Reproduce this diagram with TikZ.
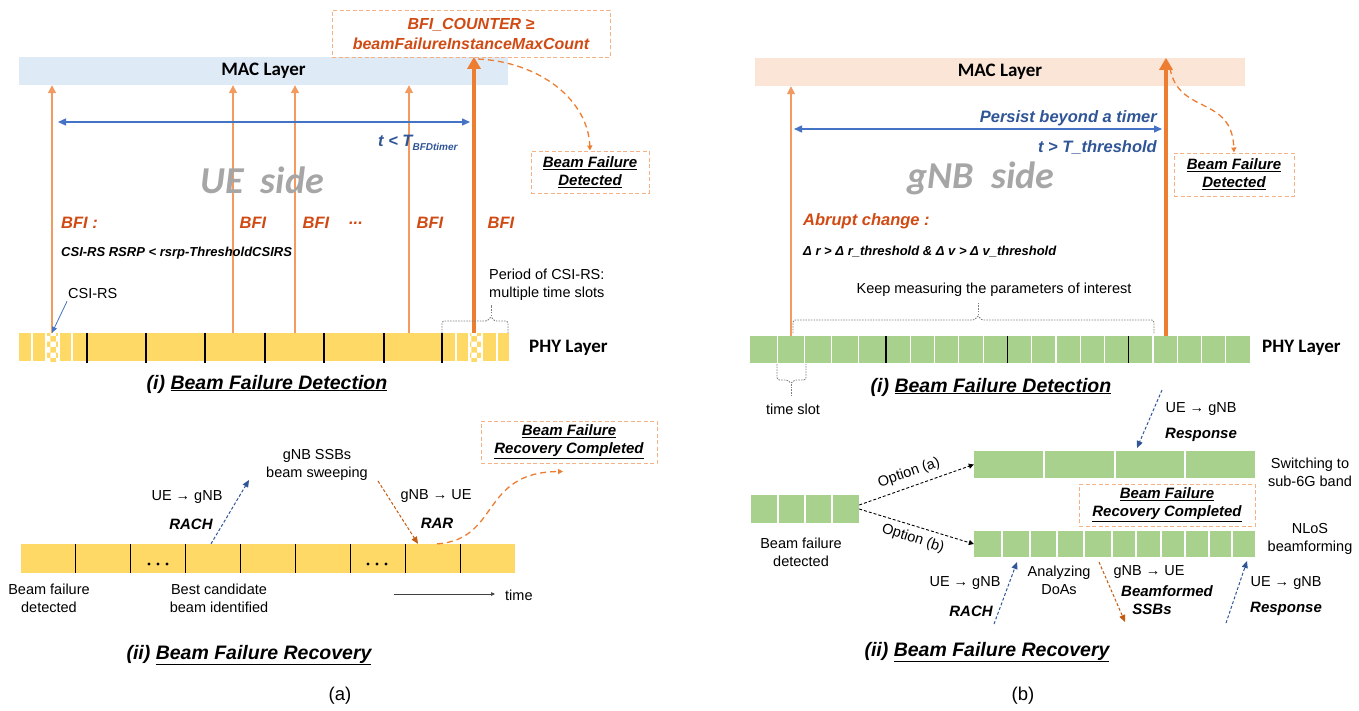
\documentclass[tikz,border=0pt]{standalone}
\usepackage{fontspec}
\setmainfont{Liberation Sans}
\newfontfamily\calfont{Carlito}
\usetikzlibrary{arrows.meta,patterns,calc}

\definecolor{macblue}{HTML}{DEEBF7}
\definecolor{macpeach}{HTML}{FBE5D6}
\definecolor{phyyellow}{HTML}{FFD966}
\definecolor{phygreen}{HTML}{A9D18E}
\definecolor{orthin}{HTML}{F29A60}
\definecolor{orthick}{HTML}{ED7D31}
\definecolor{orbox}{HTML}{F4B183}
\definecolor{ordark}{HTML}{C55A11}
\definecolor{blueline}{HTML}{4472C4}
\definecolor{bluetext}{HTML}{2F5597}
\definecolor{redtext}{HTML}{D04A14}
\definecolor{sidegray}{HTML}{A6A6A6}
\definecolor{bracegray}{HTML}{7F7F7F}

\newcommand\fsz[2]{\fontsize{#1}{#2}\selectfont}

\tikzset{
  layerbar/.style={inner sep=0pt, minimum height=28pt, font=\calfont\bfseries\fsz{19}{22}, text=black},
  slotbar/.style={inner sep=0pt, draw=none},
  lbl/.style={font=\fsz{14.5}{18}, align=center, inner sep=0pt},
  bilbl/.style={font=\bfseries\itshape\fsz{15}{18}, align=center, inner sep=0pt},
  bfi/.style={font=\bfseries\itshape\fsz{16.5}{20}, text=redtext, inner sep=0pt},
  cond/.style={font=\bfseries\itshape\fsz{13}{15}, inner sep=0pt, anchor=west},
  timertext/.style={font=\bfseries\itshape\fsz{16.5}{20}, text=bluetext, inner sep=0pt},
  sidetext/.style={font=\calfont\bfseries\itshape\fsz{38}{40}, text=sidegray, inner sep=0pt},
  dashbox/.style={draw=orbox, line width=1pt, dash pattern=on 4pt off 2.5pt, inner sep=0pt},
  capt/.style={font=\bfseries\itshape\fsz{19.5}{22}, inner sep=0pt},
  sublbl/.style={font=\fsz{18.5}{20}, inner sep=0pt},
  thinup/.style={draw=orthin, line width=1.5pt, -{Triangle[length=8pt,width=8pt]}},
  thickup/.style={draw=orthick, line width=3.5pt, -{Triangle[length=12pt,width=13pt]}},
  spanarrow/.style={draw=blueline, line width=1.4pt, {Triangle[length=8pt,width=7pt]}-{Triangle[length=8pt,width=7pt]}},
  flowcurve/.style={draw=orthick, line width=1.3pt, dash pattern=on 6pt off 4pt, -{Triangle[length=5pt,width=5pt]}},
  bluedash/.style={draw=bluetext, line width=1pt, dash pattern=on 3pt off 2pt, -{Triangle[length=7pt,width=6pt]}},
  orangedash/.style={draw=ordark, line width=1pt, dash pattern=on 3pt off 2pt, -{Triangle[length=7pt,width=6pt]}},
  optarrow/.style={draw=black, line width=0.9pt, dash pattern=on 3pt off 2pt, -{Triangle[length=5pt,width=5pt]}},
  bracketline/.style={draw=bracegray, line width=0.9pt, dash pattern=on 1.5pt off 1.2pt, rounded corners=2.5pt},
  divw/.style={draw=white, line width=1.2pt},
  divk/.style={draw=black, line width=1.2pt},
}

\begin{document}
\begin{tikzpicture}[x=1pt, y=-1pt]
\useasboundingbox (0,0) rectangle (1359,710);

% ===================== (a) UE side =====================
% layers
\node[layerbar, fill=macblue, minimum width=489pt] (macL) at (263.5,71) {MAC Layer};
\node[slotbar, fill=phyyellow, minimum width=490pt, minimum height=28pt] (phyL) at (264,347) {};
% CSI-RS slots
\foreach \a in {46,469} {
  \fill[white] (\a,333) rectangle (\a+13,361);
  \fill[pattern=checkerboard, pattern color=phyyellow] (\a,333) rectangle (\a+13,361);
}
\foreach \x in {32,46,59,72,456,469,482,497}
  \draw[divw] (\x,0 |- phyL.north) -- (\x,0 |- phyL.south);
\foreach \x in {87,146,205,265,324,384,442}
  \draw[divk] (\x,0 |- phyL.north) -- (\x,363);
\node[font=\calfont\bfseries\fsz{19}{22}, anchor=west, inner sep=0pt] (phyLlbl) at (529,348) {PHY Layer};

% counter condition box
\node[dashbox, minimum width=278pt, minimum height=47pt, font=\bfseries\itshape\fsz{16}{20}, text=redtext, align=center] (cnt) at (471,33.5) {BFI\_COUNTER ≥\\beamFailureInstanceMaxCount};

% indications from PHY to MAC
\foreach \x in {52,233,295,409}
  \draw[thinup] (\x,0 |- phyL.north) -- (\x,0 |- macL.south);
\draw[thickup] (474,0 |- phyL.north) -- (474,0 |- macL.north);
\coordinate (tipL) at (478,59);

% timer span
\coordinate (spL1) at (58,122);
\coordinate (spL2) at (470,122);
\draw[spanarrow] (spL1) -- (spL2);
\node[timertext, anchor=west] (tltL) at (378,143) {t < T\raisebox{-3.5pt}{\fsz{10}{10}BFDtimer}};

\node[sidetext] (ueside) at (262,180) {UE\ \ side};

% detected box
\node[dashbox, bilbl, minimum width=118pt, minimum height=42pt] (detL) at (590,172) {\underline{Beam Failure}\\\underline{Detected}};
\draw[flowcurve] (tipL) .. controls (540,62) and (588,100) .. (detL.north);

% BFI labels
\node[bfi, anchor=west] (bfi0) at (61,223) {BFI :};
\node[bfi] (bfi1) at (253,223) {BFI};
\node[bfi] (bfi2) at (316,223) {BFI};
\node[bfi] (bfid) at (356,223) {...};
\node[bfi] (bfi3) at (430,223) {BFI};
\node[bfi] (bfi4) at (501,223) {BFI};
\node[cond] (condL) at (61,253) {CSI-RS RSRP < rsrp-ThresholdCSIRS};

% CSI-RS pointer
\node[lbl, anchor=west] (csi) at (68,294) {CSI-RS};
\draw[draw=blueline, line width=0.8pt, -{Triangle[length=6pt,width=5pt]}] ($(csi.south west)+(-1,2)$) -- (52,0 |- phyL.north);

% CSI-RS period
\node[lbl, align=left, anchor=west] (period) at (489,284.5) {Period of CSI-RS:\\multiple time slots};
\draw[bracketline] (442,333) -- (442,321) -- (488,321) -- (491,316) -- (494,321) -- (508,321) -- (508,333);
\draw[draw=bracegray, line width=0.9pt, dash pattern=on 1.5pt off 1.2pt] (491,316) -- (491,305);

\node[capt] (capL1) at (267,384) {(i) \underline{Beam Failure Detection}};

% ----- recovery (a) -----
\node[slotbar, fill=phyyellow, minimum width=494pt, minimum height=29pt] (recL) at (268,558.5) {};
\foreach \k in {1,...,8}
  \draw[divk] ({21+54.89*\k},0 |- recL.north) -- ({21+54.89*\k},0 |- recL.south);
\foreach \cx in {158,377}
  \foreach \d in {-9,0,9}
    \fill (\cx+\d,564) circle (1.7);

\node[lbl] (bfdL) at (49,598) {Beam failure\\detected};
\node[lbl] (bestL) at (219,598) {Best candidate\\beam identified};

\node[lbl, anchor=west] (timelbl) at (505,595) {time};
\coordinate (t0) at (394,594);
\draw[draw=black!75, line width=0.7pt, -{Triangle[length=4pt,width=3.5pt]}] (t0) -- ($(timelbl.west)+(-10,-1)$);

\node[lbl] (ueL) at (187,497) {UE → gNB};
\node[bilbl] (rachL) at (191,524) {RACH};
\node[lbl] (ssbL) at (317,465) {gNB SSBs\\beam sweeping};
\draw[bluedash] (211,0 |- recL.north) -- (249,480);

\node[lbl] (gnbL) at (436,496) {gNB → UE};
\node[bilbl] (rarL) at (437,523) {RAR};
\draw[orangedash] (378,481) -- (418,0 |- recL.north);

\node[dashbox, bilbl, minimum width=176pt, minimum height=42pt] (recdoneL) at (569,442) {\underline{Beam Failure}\\\underline{Recovery Completed}};
\draw[flowcurve] (437,0 |- recL.north) .. controls (500,540) and (480,472) .. ($(recdoneL.south)+(-6,8)$);

\node[capt] (capL2) at (249,655) {(ii) \underline{Beam Failure Recovery}};
\node[sublbl] (subA) at (340,696) {(a)};

% ===================== (b) gNB side =====================
\node[layerbar, fill=macpeach, minimum width=490pt] (macR) at (1000,72) {MAC Layer};
\node[slotbar, fill=phygreen, minimum width=500pt, minimum height=27pt] (phyR) at (1000,349.5) {};
\foreach \x in {777.2,804.4,831.6,858.8,910.3,934.5,958.8,983.1,1031.6,1055.9,1080.1,1104.4,1152.9,1177.2,1201.5,1225.7}
  \draw[divw] (\x,0 |- phyR.north) -- (\x,0 |- phyR.south);
\foreach \x in {886,1007.3,1128.7}
  \draw[divk] (\x,0 |- phyR.north) -- (\x,0 |- phyR.south);
\node[font=\calfont\bfseries\fsz{19}{22}, anchor=west, inner sep=0pt] (phyRlbl) at (1262,348) {PHY Layer};

\draw[thinup] (791,0 |- phyR.north) -- (791,0 |- macR.south);
\draw[thickup] (1166,0 |- phyR.north) -- (1166,0 |- macR.north);
\coordinate (tipR) at (1170,68);

\coordinate (spR1) at (794,129);
\coordinate (spR2) at (1162,129);
\draw[spanarrow] (spR1) -- (spR2);
\node[timertext, anchor=east] (persist) at (1157,118) {Persist beyond a timer};
\node[timertext, anchor=east] (tgtR) at (1157,148) {t > T\_threshold};

\node[sidetext] (gnbside) at (981,178) {gNB\ \ side};

\node[dashbox, bilbl, minimum width=120pt, minimum height=43pt] (detR) at (1234,174.5) {\underline{Beam Failure}\\\underline{Detected}};
\draw[flowcurve] (tipR) .. controls (1178,115) and (1232,95) .. (detR.north);

\node[bfi, anchor=west] (abrupt) at (803,221) {Abrupt change :};
\node[cond] (condR) at (803,252) {Δ r > Δ r\_threshold \& Δ v > Δ v\_threshold};

\node[lbl] (keep) at (994,290) {Keep measuring the parameters of interest};
\draw[bracketline] (793,333) -- (793,320) -- (975,320) -- (978,315) -- (981,320) -- (1154,320) -- (1154,333);
\draw[draw=bracegray, line width=0.9pt, dash pattern=on 1.5pt off 1.2pt] (978,315) -- (978,303);

\draw[bracketline] (777,364) -- (777,380) -- (788,380) -- (791,384) -- (794,380) -- (806,380) -- (806,364);
\draw[draw=bracegray, line width=0.9pt, dash pattern=on 1.5pt off 1.2pt] (791,384) -- (791,396);
\node[lbl] (tslot) at (793,409) {time slot};

\node[capt] (capR1) at (991,387) {(i) \underline{Beam Failure Detection}};

% ----- recovery (b) -----
\node[slotbar, fill=phygreen, minimum width=108pt, minimum height=28pt] (blk) at (805,509) {};
\foreach \x in {778,805,832}
  \draw[divw] (\x,0 |- blk.north) -- (\x,0 |- blk.south);
\node[lbl] (bfdR) at (801,552) {Beam failure\\detected};

\node[slotbar, fill=phygreen, minimum width=281pt, minimum height=27pt] (optA) at (1114.5,464.5) {};
\foreach \x in {1044,1115,1185}
  \draw[divw] (\x,0 |- optA.north) -- (\x,0 |- optA.south);
\node[lbl] (sub6) at (1310,472) {Switching to\\sub-6G band};

\node[slotbar, fill=phygreen, minimum width=281pt, minimum height=26pt] (optB) at (1114.5,544) {};
\foreach \x in {1002,1030,1057,1084,1112,1136,1161,1185,1209,1232}
  \draw[divw] (\x,0 |- optB.north) -- (\x,0 |- optB.south);
\node[lbl] (nlos) at (1310,539) {NLoS\\beamforming};

\draw[optarrow] ($(blk.east)+(0,-4)$) -- (optA.west);
\draw[optarrow] ($(blk.east)+(0,0)$) -- (optB.west);
\node[lbl, rotate=19.3] (optAlbl) at (909,473) {Option (a)};
\node[lbl, rotate=-18] (optBlbl) at (913,538.5) {Option (b)};

\node[dashbox, bilbl, minimum width=176pt, minimum height=42pt] (recdoneR) at (1167,505) {\underline{Beam Failure}\\\underline{Recovery Completed}};

\coordinate (rspA) at (1162,390);
\draw[bluedash] (rspA) -- (1137,448);
\node[lbl] (ueR0) at (1201,409) {UE → gNB};
\node[bilbl] (respA) at (1201,435) {Response};

\coordinate (rachS) at (994,624);
\draw[bluedash] (rachS) -- (1017,562);
\node[lbl] (ueR1) at (965,583) {UE → gNB};
\node[bilbl] (rachR) at (971,611) {RACH};

\node[lbl] (doas) at (1059,580) {Analyzing\\DoAs};

\coordinate (ssbE) at (1125,622);
\draw[orangedash] (1099,562) -- (ssbE);
\node[lbl] (gnbR) at (1149,572) {gNB → UE};
\node[bilbl] (bfm) at (1167,591) {Beamformed};
\node[bilbl] (ssbs) at (1152,609) {SSBs};

\coordinate (rspB) at (1226,623);
\draw[bluedash] (rspB) -- (1247,561);
\node[lbl] (ueR2) at (1286,583) {UE → gNB};
\node[bilbl] (respB) at (1286,609) {Response};

\node[capt] (capR2) at (987,652) {(ii) \underline{Beam Failure Recovery}};
\node[sublbl] (subB) at (1023,696) {(b)};
\end{tikzpicture}
\end{document}
